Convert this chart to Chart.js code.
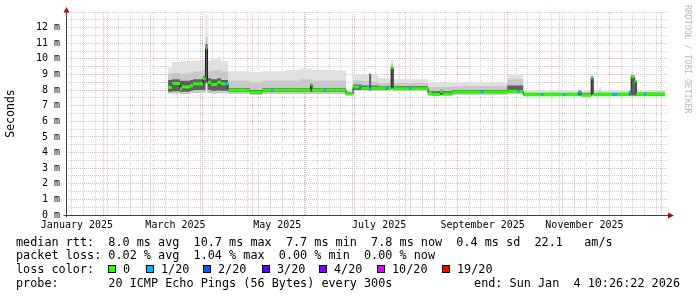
<!DOCTYPE html>
<html>
<head>
<meta charset="utf-8">
<script src="https://cdn.jsdelivr.net/npm/chart.js@4.4.1/dist/chart.umd.min.js"></script>
<style>
  body { margin: 0; background: #fff; }
  #wrap { position: relative; width: 697px; height: 297px; font-family: 'DejaVu Sans Mono', monospace; color: #000; }
  #chart { position: absolute; left: 0; top: 0; }
  .row { position: absolute; font-size: 11.8px; line-height: 14px; white-space: pre; }
  .box { position: absolute; width: 8px; height: 8px; border: 1px solid #000; box-sizing: border-box; }
  #credit { position: absolute; left: 683px; top: 5px; writing-mode: vertical-rl; font-size: 8.2px; line-height: 10px; color: #b8b8b8; white-space: pre; }
</style>
</head>
<body>
<div id="wrap">
  <canvas id="chart" width="697" height="297"></canvas>
  <div id="credit">RRDTOOL / TOBI OETIKER</div>
  <div class="row" style="left:16px; top:235px">median rtt:  8.0 ms avg  10.7 ms max  7.7 ms min  7.8 ms now  0.4 ms sd  22.1   am/s</div>
  <div class="row" style="left:16px; top:248px">packet loss: 0.02 % avg  1.04 % max  0.00 % min  0.00 % now</div>
  <div class="row" style="left:16px; top:262px">loss color:</div>
  <div id="losslegend"></div>
  <div class="row" style="left:16px; top:276px">probe:       20 ICMP Echo Pings (56 Bytes) every 300s</div>
  <div class="row" style="right:17px; top:276px">end: Sun Jan  4 10:26:22 2026</div>
</div>
<script>
// x = day of 2025 (0 = Jan 1), each value holds until the next entry
const days = [69.6, 72.0, 76.8, 78.0, 82.7, 84.5, 90.5, 92.0, 93.2, 95.3,
  98.9, 101.3, 103.7, 104.9, 105.5, 118.7, 125.9, 131.3, 132.5, 139.7,
  148.6, 154.9, 155.8, 163.0, 164.2, 169.6, 176.2, 180.4, 184.0, 185.2,
  190.0, 191.2, 195.4, 200.2, 201.4, 203.2, 204.4, 214.0, 215.2, 225.3,
  227.7, 232.5, 234.3, 239.7, 257.1, 258.3, 272.7, 278.7, 279.9, 282.3,
  293.0, 294.3, 306.2, 307.4, 315.2, 317.0, 323.0, 324.2, 327.8, 329.0,
  335.6, 338.6, 345.8, 347.0, 348.8, 350.0, 354.7, 355.9, 367.3]

// median rtt (ms)
const median = [8.17, 8.42, 8.08, 8.20, 8.27, 8.40, 8.75, 10.70, 8.50, 8.36,
  8.50, 8.40, 8.40, 8.40, 7.99, 7.86, 7.99, 7.99, 7.99, 7.99,
  7.99, 8.35, 7.99, 7.99, 7.99, 7.99, 7.76, 8.20, 8.28, 8.12,
  8.04, 8.12, 8.12, 8.18, 8.10, 9.43, 8.09, 8.09, 8.09, 7.78,
  7.73, 7.92, 7.76, 7.88, 7.88, 7.88, 7.92, 7.92, 7.92, 7.71,
  7.71, 7.71, 7.71, 7.71, 7.88, 7.67, 8.76, 7.73, 7.73, 7.73,
  7.72, 7.73, 7.87, 8.85, 8.57, 7.76, 7.76, 7.76, 7.76]

// lost pings out of 20
const lossCount = [0, 0, 0, 0, 0, 0, 0, 0, 0, 0,
  0, 0, 1, 0, 0, 0, 0, 1, 0, 0,
  0, 0, 0, 1, 0, 0, 0, 0, 1, 0,
  1, 0, 0, 1, 0, 0, 0, 1, 0, 0,
  0, 0, 0, 0, 1, 0, 0, 1, 0, 0,
  1, 0, 1, 0, 1, 0, 1, 0, 0, 0,
  1, 0, 1, 0, 0, 0, 1, 0, 0]

// smoke: fastest ping, slower pings, slowest ping
const smokeLow = [7.78, 7.78, 7.75, 7.75, 7.80, 7.82, 7.85, 8.40, 7.80, 7.78,
  7.80, 7.80, 7.80, 7.80, 7.75, 7.68, 7.75, 7.75, 7.75, 7.75,
  7.75, 7.75, 7.75, 7.75, 7.75, 7.75, 7.65, 7.95, 7.95, 7.95,
  7.95, 7.95, 7.95, 7.95, 7.95, 8.05, 7.95, 7.95, 7.95, 7.62,
  7.62, 7.62, 7.62, 7.70, 7.70, 7.70, 7.75, 7.75, 7.75, 7.60,
  7.60, 7.60, 7.60, 7.60, 7.60, 7.60, 7.60, 7.60, 7.60, 7.60,
  7.60, 7.60, 7.60, 7.60, 7.60, 7.60, 7.60, 7.60, 7.60]

const smokeMidTop = [9.05, 9.10, 9.00, 9.05, 9.10, 9.20, 9.30, 11.40, 9.20, 9.25,
  9.30, 9.20, 9.20, 9.20, 8.60, 8.50, 8.60, 8.60, 8.60, 8.60,
  8.70, 8.70, 8.60, 8.60, 8.60, 8.60, 7.92, 8.60, 8.60, 8.60,
  9.05, 8.55, 8.45, 8.45, 8.45, 9.70, 8.45, 8.45, 8.45, 8.20,
  8.20, 8.20, 8.20, 8.25, 8.25, 8.25, 8.70, 8.70, 8.70, 7.88,
  7.88, 7.88, 7.88, 7.88, 7.88, 7.88, 8.90, 7.88, 8.00, 7.88,
  7.88, 7.88, 7.88, 9.00, 8.70, 7.90, 7.90, 7.90, 7.90]

const smokeTop = [9.45, 9.80, 9.80, 9.85, 9.85, 9.90, 10.00, 12.80, 9.90, 10.05,
  10.10, 9.85, 9.85, 9.85, 9.20, 9.15, 9.20, 9.20, 9.20, 9.28,
  9.38, 9.40, 9.30, 9.30, 9.30, 9.25, 8.05, 9.00, 9.00, 9.00,
  9.05, 9.00, 8.75, 8.75, 8.75, 9.95, 8.70, 8.70, 8.70, 8.45,
  8.45, 8.45, 8.45, 8.50, 8.50, 8.50, 9.00, 9.00, 9.00, 7.98,
  7.98, 7.98, 7.98, 7.98, 7.98, 7.98, 8.95, 7.98, 8.20, 7.98,
  7.98, 7.98, 7.98, 9.05, 8.80, 7.98, 7.98, 7.98, 7.98]

// dense smoke around the median
const coreLow = [7.90, 7.92, 7.88, 7.90, 7.95, 8.00, 8.00, 8.45, 8.00, 7.95,
  7.98, 7.95, 7.95, 7.95, 7.88, 7.76, 7.88, 7.88, 7.88, 7.88,
  7.88, 7.88, 7.88, 7.88, 7.88, 7.88, 7.70, 8.02, 8.02, 8.02,
  8.00, 8.02, 8.02, 8.02, 8.02, 8.10, 8.00, 8.00, 8.00, 7.70,
  7.68, 7.70, 7.70, 7.80, 7.80, 7.80, 7.85, 7.85, 7.85, 7.65,
  7.65, 7.65, 7.65, 7.65, 7.65, 7.65, 7.68, 7.66, 7.66, 7.66,
  7.66, 7.66, 7.66, 7.66, 7.66, 7.66, 7.66, 7.66, 7.66]

const coreTop = [8.65, 8.70, 8.60, 8.60, 8.65, 8.70, 8.90, 10.95, 8.75, 8.70,
  8.75, 8.65, 8.65, 8.65, 8.12, 8.00, 8.12, 8.12, 8.12, 8.12,
  8.12, 8.42, 8.12, 8.12, 8.12, 8.12, 7.85, 8.35, 8.35, 8.30,
  9.05, 8.30, 8.25, 8.25, 8.25, 9.50, 8.25, 8.25, 8.25, 7.92,
  7.92, 8.00, 7.92, 8.00, 8.00, 8.00, 8.30, 8.30, 8.30, 7.80,
  7.80, 7.80, 7.80, 7.80, 7.80, 7.80, 8.85, 7.80, 7.80, 7.80,
  7.80, 7.80, 7.92, 8.95, 8.65, 7.82, 7.82, 7.82, 7.82]

// axes
const xStart = 8.43
const xEnd = 368.43
const monthStarts = [31, 59, 90, 120, 151, 181, 212, 243, 273, 304, 334, 365]
const firstMonday = 5
const xLabelDays = [15, 74, 135, 196, 258, 319]
const xLabels = ['January 2025', 'March 2025', 'May 2025', 'July 2025', 'September 2025', 'November 2025']
const yMax = 13
const yLabels = [0, 1, 2, 3, 4, 5, 6, 7, 8, 9, 10, 11, 12]

// loss legend
const lossLevels = [0, 1, 2, 3, 4, 10, 19]
const lossNames = ['0', '1/20', '2/20', '3/20', '4/20', '10/20', '19/20']
const lossColors = ['#26ff00', '#00b8ff', '#0059ff', '#5e00ff', '#7e00ff', '#dd00ff', '#ff0000']
const lossBoxX = [108, 146, 203, 262, 319, 377, 442]

function lossColor(n) {
    let c = lossColors[0]
    for (let i = 0; i < lossLevels.length; i++) {
        if (n >= lossLevels[i]) c = lossColors[i]
    }
    return c
}

const legend = document.getElementById('losslegend')
lossNames.forEach(function(name, i) {
    const box = document.createElement('div')
    box.className = 'box'
    box.style.left = lossBoxX[i] + 'px'
    box.style.top = '265px'
    box.style.background = lossColors[i]
    legend.appendChild(box)
    const lbl = document.createElement('div')
    lbl.className = 'row'
    lbl.style.left = (lossBoxX[i] + 15) + 'px'
    lbl.style.top = '262px'
    lbl.textContent = name
    legend.appendChild(lbl)
})

// grid ticks
var weekLines = []
for (let d = firstMonday; d <= xEnd; d += 7) {
    if (d >= xStart && monthStarts.indexOf(d) < 0) weekLines.push(d)
}
const xTicks = weekLines.concat(monthStarts, xLabelDays).sort(function(a, b) { return a - b })
var yTicks = []
for (let v = 0; v <= yMax * 2; v++) yTicks.push(v / 2)

function pts(arr) {
    return days.map(function(d, i) { return { x: d, y: arr[i] } })
}

// median drawn as flat pieces only (no coloured risers), like smokeping
function medianPieces() {
    var out = []
    for (let i = 0; i < days.length - 1; i++) {
        out.push({ x: days[i], y: median[i] })
        out.push({ x: days[i + 1], y: median[i] })
    }
    return out
}

function band(arr, color, fill, order) {
    return {
        data: pts(arr),
        stepped: true,
        borderWidth: 0,
        borderColor: 'transparent',
        backgroundColor: color,
        fill: fill,
        pointRadius: 0,
        order: order
    }
}

const monoFont = 'DejaVu Sans Mono'

const axisArrows = {
    id: 'axisArrows',
    afterDraw(chart) {
        const ctx = chart.ctx
        const a = chart.chartArea
        const x0 = Math.round(a.left) + 0.5
        const y0 = Math.round(a.bottom) + 0.5
        ctx.save()
        ctx.strokeStyle = '#404040'
        ctx.lineWidth = 1
        ctx.beginPath()
        ctx.moveTo(x0, y0 + 2)
        ctx.lineTo(x0, a.top - 1)
        ctx.moveTo(x0 - 3, y0)
        ctx.lineTo(a.right + 1, y0)
        ctx.stroke()
        ctx.fillStyle = '#a01010'
        ctx.beginPath()
        ctx.moveTo(x0, a.top - 5)
        ctx.lineTo(x0 - 3, a.top + 0.5)
        ctx.lineTo(x0 + 3, a.top + 0.5)
        ctx.closePath()
        ctx.fill()
        ctx.beginPath()
        ctx.moveTo(a.right + 7, y0)
        ctx.lineTo(a.right + 1, y0 - 3)
        ctx.lineTo(a.right + 1, y0 + 3)
        ctx.closePath()
        ctx.fill()
        ctx.restore()
    }
}

var smokeCtx = document.getElementById('chart').getContext('2d')

var smokeChart = new Chart(smokeCtx, {
    type: 'line',
    data: {
        datasets: [
            band(smokeLow, 'transparent', false, 3),
            band(smokeTop, '#e0e0e0', 0, 3),
            band(smokeMidTop, '#c8c8c8', 0, 2),
            band(coreLow, 'transparent', false, 1),
            band(coreTop, '#606060', 3, 1),
            {
                // thin dark risers between median steps
                data: pts(median),
                stepped: true,
                borderWidth: 1,
                borderColor: '#202020',
                fill: false,
                pointRadius: 0,
                order: 0.5
            },
            {
                data: medianPieces(),
                borderWidth: 3,
                borderColor: lossColors[0],
                borderCapStyle: 'butt',
                fill: false,
                pointRadius: 0,
                order: 0,
                segment: {
                    borderColor: function(c) {
                        if (c.p0DataIndex % 2 === 1) return 'transparent'
                        return lossColor(lossCount[c.p0DataIndex / 2])
                    }
                }
            }
        ]
    },
    options: {
        responsive: false,
        animation: false,
        devicePixelRatio: 1,
        layout: { padding: { left: 0, right: 30, top: 12, bottom: 65 } },
        plugins: {
            legend: { display: false },
            tooltip: { enabled: false }
        },
        scales: {
            x: {
                type: 'linear',
                min: xStart,
                max: xEnd,
                afterBuildTicks: function(s) { s.ticks = xTicks.map(function(v) { return { value: v } }) },
                afterFit: function(s) { s.height = 17 },
                grid: {
                    drawTicks: false,
                    color: function(c) { return monthStarts.indexOf(c.tick.value) >= 0 ? '#eab4b4' : '#d0d0d0' },
                    lineWidth: function(c) { return xLabelDays.indexOf(c.tick.value) >= 0 ? 0 : 1 }
                },
                border: { display: false, dash: [1, 1] },
                ticks: {
                    autoSkip: false,
                    maxRotation: 0,
                    minRotation: 0,
                    padding: 4,
                    color: '#000',
                    font: { family: monoFont, size: 10 },
                    callback: function(v) {
                        const i = xLabelDays.indexOf(v)
                        return i >= 0 ? xLabels[i] : ''
                    }
                }
            },
            y: {
                min: 0,
                max: yMax,
                afterBuildTicks: function(s) { s.ticks = yTicks.map(function(v) { return { value: v } }) },
                afterFit: function(s) { s.width = 66 },
                grid: {
                    drawTicks: false,
                    color: function(c) { return yLabels.indexOf(c.tick.value) >= 0 ? '#eab4b4' : '#d0d0d0' }
                },
                border: { display: false, dash: [1, 1] },
                ticks: {
                    autoSkip: false,
                    padding: 6,
                    color: '#000',
                    font: { family: monoFont, size: 10 },
                    callback: function(v) { return yLabels.indexOf(v) >= 0 ? v + ' m' : '' }
                },
                title: {
                    display: true,
                    text: 'Seconds',
                    color: '#000',
                    font: { family: monoFont, size: 11.5 },
                    padding: { top: 4, bottom: 0 }
                }
            }
        }
    },
    plugins: [axisArrows]
})
</script>
</body>
</html>
